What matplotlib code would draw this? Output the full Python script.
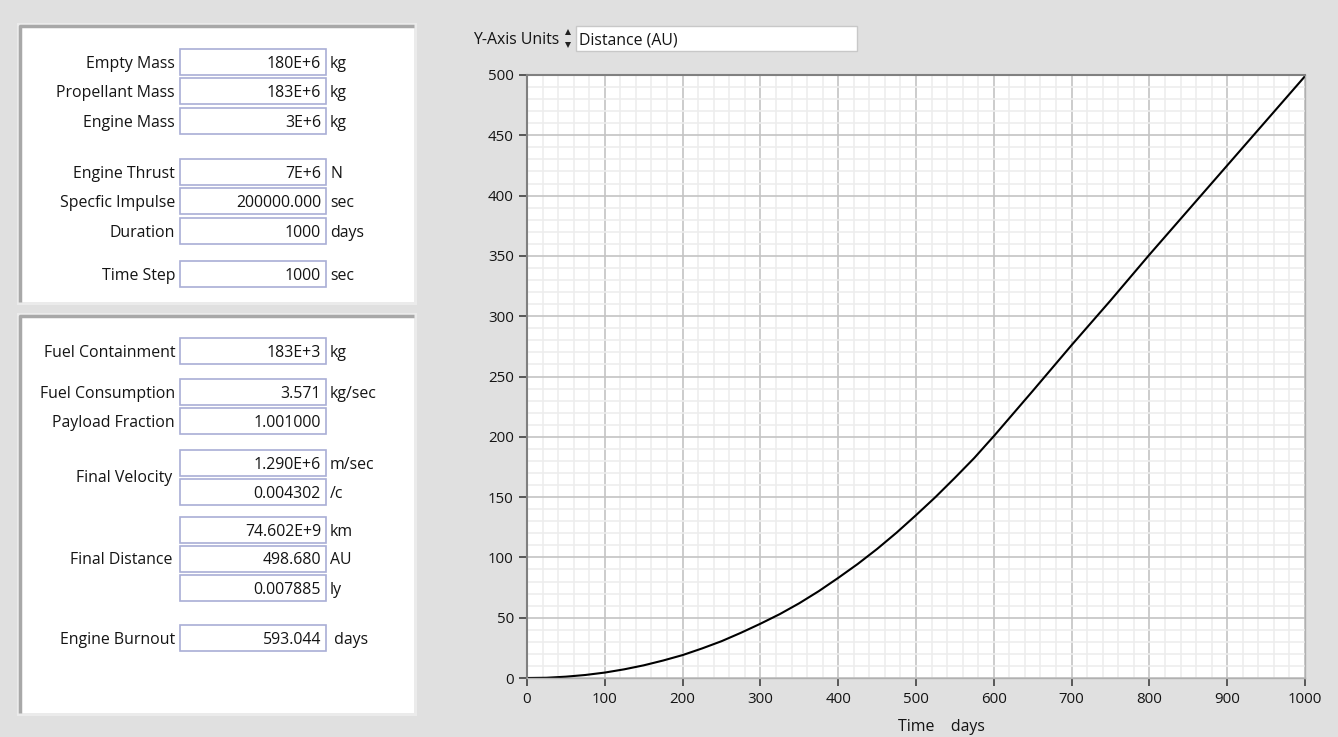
import matplotlib
matplotlib.use("Agg")
import matplotlib.pyplot as plt
from matplotlib.patches import Rectangle, Polygon
from matplotlib.ticker import MultipleLocator

plt.rcParams['font.family'] = ['Open Sans', 'DejaVu Sans']

# curve: distance (AU) against time (days)
time_days = [0, 25, 50, 75, 100, 125, 150, 175, 200, 225, 250, 275, 300, 325,
             350, 375, 400, 425, 450, 475, 500, 525, 550, 575, 593,
             600, 650, 700, 750, 800, 850, 900, 950, 1000]
dist_au = [0, 0.2, 1.1, 2.5, 4.5, 7.2, 10.5, 14.5, 19, 24.5, 30.5, 37.5, 45, 53,
           62, 72, 83, 94.5, 107, 120.5, 135, 150, 166, 182.5, 195.5,
           200.5, 238, 276, 313, 351, 388, 425, 462, 499]

# input panel: label, value, unit, row centre (px)
input_labels = ["Empty Mass", "Propellant Mass", "Engine Mass", "Engine Thrust",
                "Specfic Impulse", "Duration", "Time Step"]
input_values = ["180E+6", "183E+6", "3E+6", "7E+6", "200000.000", "1000", "1000"]
input_units = ["kg", "kg", "kg", "N", "sec", "days", "sec"]
input_rows = [62, 91, 121, 172, 201, 231, 274]

# output panel
output_values = ["183E+3", "3.571", "1.001000", "1.290E+6", "0.004302",
                 "74.602E+9", "498.680", "0.007885", "593.044"]
output_units = ["kg", "kg/sec", "", "m/sec", "/c", "km", "AU", "ly", " days"]
output_rows = [351, 392, 421, 463, 492, 530, 559, 588, 638]
output_labels = [("Fuel Containment", 351), ("Fuel Consumption", 392),
                 ("Payload Fraction", 421), ("Final Velocity", 476),
                 ("Final Distance", 559), ("Engine Burnout", 638)]

W, H = 1338, 737
BG = "#E0E0E0"
TXT = "#141414"
FS = 11.4
TFS = 10.8
DY = 1.5  # text sits a little lower than the box centre

fig = plt.figure(figsize=(W / 100, H / 100), dpi=100, facecolor=BG)
ui = fig.add_axes([0, 0, 1, 1])
ui.set_xlim(0, W)
ui.set_ylim(H, 0)
ui.axis("off")


def panel(x0, y0, x1, y1):
    ui.add_patch(Rectangle((x0, y0), x1 - x0, y1 - y0, fc="#EBEBEB", ec="none"))
    ui.add_patch(Rectangle((x0 + 3, y0 + 3), x1 - x0 - 6, y1 - y0 - 6, fc="white", ec="none"))
    ui.plot([x0 + 3, x0 + 3, x1 - 3], [y1 - 3, y0 + 3, y0 + 3], color="#A8A8A8", lw=2.5,
            solid_capstyle="butt")


def field(y, value, unit):
    ui.add_patch(Rectangle((180, y - 13), 146, 26, fc="white", ec="#A9AED6", lw=1.2))
    ui.text(321, y + DY, value, ha="right", va="center", fontsize=FS, color=TXT)
    if unit:
        ui.text(330, y + DY, unit, ha="left", va="center", fontsize=FS, color=TXT)


panel(17, 23, 417, 305)
panel(17, 313, 417, 716)

for lab, val, unit, y in zip(input_labels, input_values, input_units, input_rows):
    ui.text(175, y + DY, lab, ha="right", va="center", fontsize=FS, color=TXT)
    field(y, val, unit)

for val, unit, y in zip(output_values, output_units, output_rows):
    field(y, val, unit)
for lab, y in output_labels:
    rx = 175 if lab not in ("Final Velocity", "Final Distance") else 172
    ui.text(rx, y + DY, lab, ha="right", va="center", fontsize=FS, color=TXT)

# Y-axis units selector
ui.text(559, 39.5, "Y-Axis Units", ha="right", va="center", fontsize=FS, color=TXT)
ui.add_patch(Polygon([[565, 35], [571, 35], [568, 29]], closed=True, fc="#202020", ec="none"))
ui.add_patch(Polygon([[565, 42], [571, 42], [568, 48]], closed=True, fc="#202020", ec="none"))
ui.add_patch(Rectangle((576, 26), 281, 25, fc="white", ec="#C8C8C8", lw=1))
ui.text(579, 40, "Distance (AU)", ha="left", va="center", fontsize=FS, color=TXT)

# chart
L, R, T, B = 527, 1305, 75, 678
ax = fig.add_axes([L / W, (H - B) / H, (R - L) / W, (B - T) / H])
ax.set_facecolor("white")
ax.plot(time_days, dist_au, color="black", lw=1.5)
ax.set_xlim(0, 1000)
ax.set_ylim(0, 500)
ax.xaxis.set_major_locator(MultipleLocator(100))
ax.xaxis.set_minor_locator(MultipleLocator(20))
ax.yaxis.set_major_locator(MultipleLocator(50))
ax.yaxis.set_minor_locator(MultipleLocator(10))
ax.grid(which="major", color="#C4C4C4", lw=1.2)
ax.grid(which="minor", color="#EDEDED", lw=1.2)
ax.set_axisbelow(True)
for s in ax.spines.values():
    s.set_color("#B0B0B0")
    s.set_linewidth(1)
ax.spines["left"].set_color("#808080")
ax.spines["left"].set_linewidth(1.5)
ax.spines["top"].set_color("#808080")
ax.spines["top"].set_linewidth(1.5)
ax.tick_params(which="minor", length=0)
ax.tick_params(which="major", direction="out", length=6, width=1.2, color="#404040",
               labelsize=TFS, labelcolor=TXT)
ax.tick_params(axis="x", pad=4)
ax.set_xlabel("Time    days", fontsize=FS, color=TXT, labelpad=0)
ax.xaxis.set_label_coords(0.533, -0.068)

fig.savefig("out.png", dpi=100, facecolor=BG)
